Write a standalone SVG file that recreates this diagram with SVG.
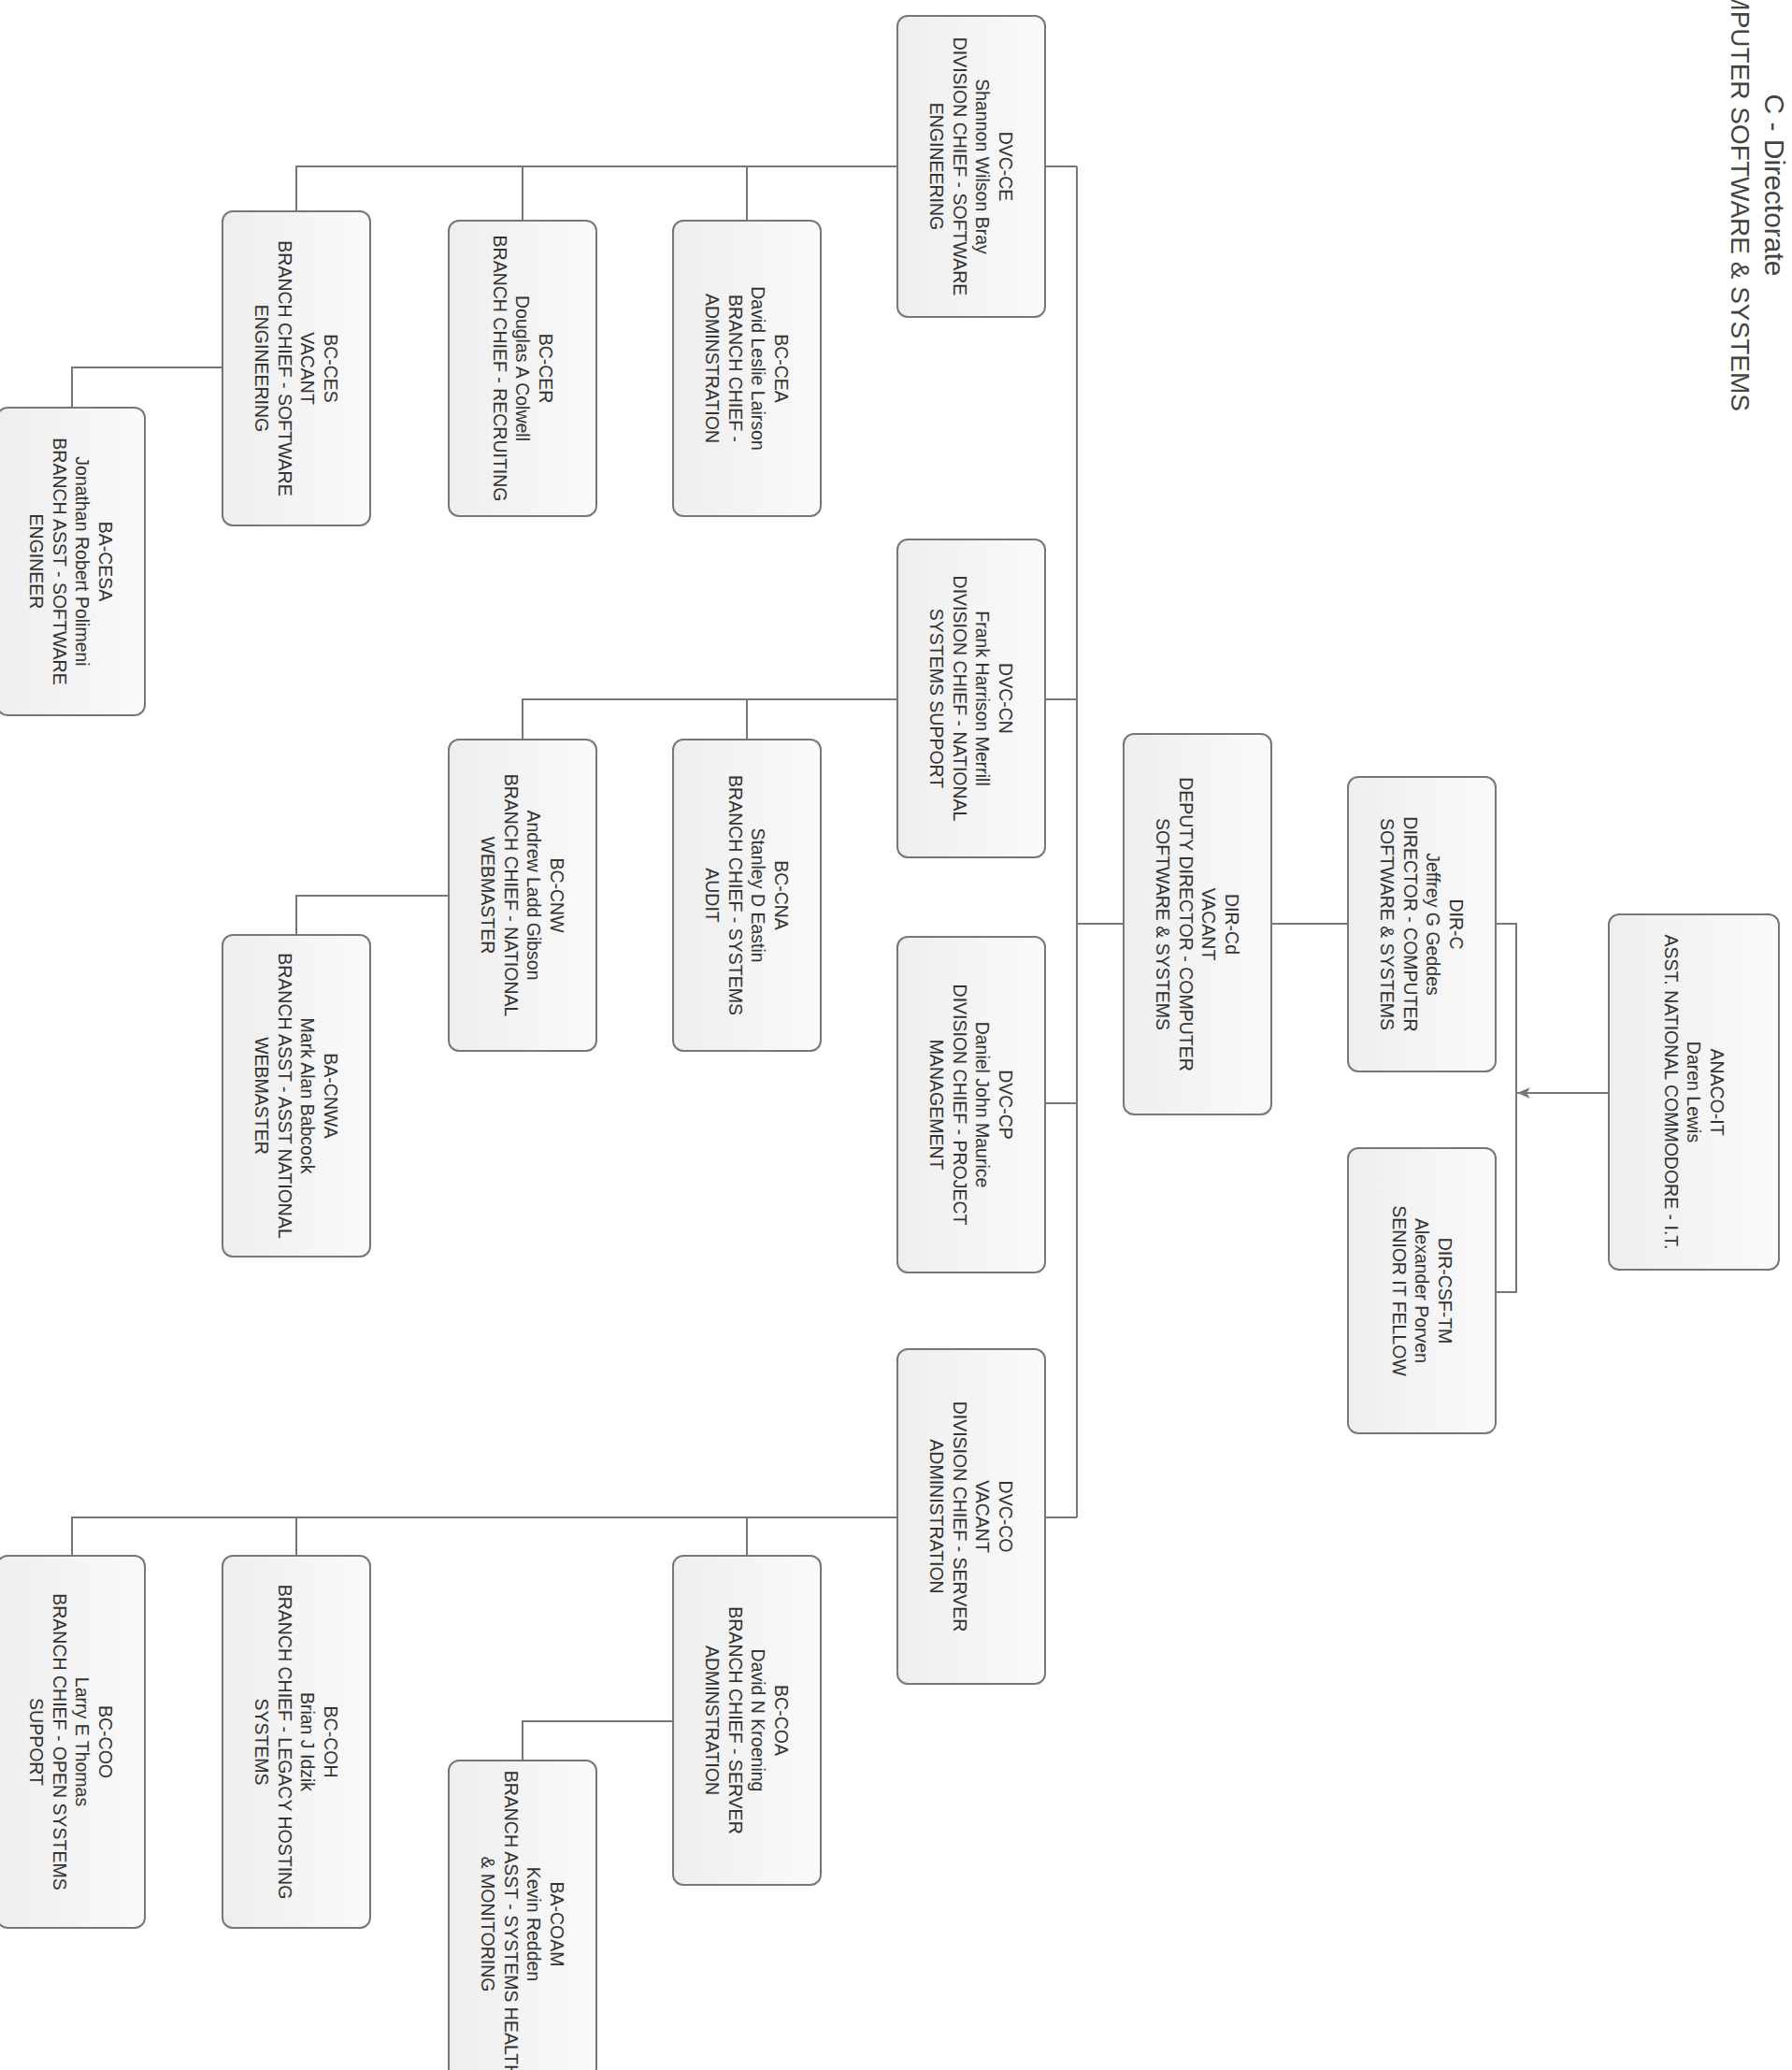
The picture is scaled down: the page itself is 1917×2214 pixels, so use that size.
<svg xmlns="http://www.w3.org/2000/svg" width="1917" height="2214" viewBox="0 0 1917 2214">
<defs>
<linearGradient id="g" x1="0" y1="0" x2="1" y2="0">
<stop offset="0" stop-color="#eeeeee"/>
<stop offset="1" stop-color="#fafafa"/>
</linearGradient>
<marker id="arr" viewBox="0 0 14 12" refX="14" refY="6" markerWidth="14" markerHeight="12" markerUnits="userSpaceOnUse" orient="auto">
<path d="M0,0 L14,6 L0,12 L4,6 z" fill="#777"/>
</marker>
<style>
.box{fill:url(#g);stroke:#777;stroke-width:2}
.t{font-family:"Liberation Sans",Arial,sans-serif;font-size:19.5px;fill:#333;text-anchor:middle}
.ttl{font-family:"Liberation Sans",Arial,sans-serif;font-size:30px;fill:#444}
.c{fill:none;stroke:#777;stroke-width:2}
</style>
</defs>
<rect width="1917" height="2214" fill="#ffffff"/>
<g id="title">
<text class="ttl" text-anchor="middle" transform="translate(1888,198) rotate(90)">C - Directorate</text>
<text class="ttl" text-anchor="end" style="font-size:28px" transform="translate(1852,440) rotate(90)">COMPUTER SOFTWARE &amp; SYSTEMS</text>
</g>
<g id="connectors">
<path class="c" d="M1152,178 V1623"/>
<path class="c" d="M1118,178 H1152"/>
<path class="c" d="M1118,748 H1152"/>
<path class="c" d="M1118,1180 H1152"/>
<path class="c" d="M1118,1623 H1152"/>
<path class="c" d="M1202,988 H1152"/>
<path class="c" d="M1360,988 H1442"/>
<path class="c" d="M1600,988 H1622 V1382 H1600"/>
<path class="c" d="M1721,1169 H1623" marker-end="url(#arr)"/>
<path class="c" d="M960,178 H317 V226"/>
<path class="c" d="M799,178 V236"/>
<path class="c" d="M559,178 V236"/>
<path class="c" d="M238,393 H77 V436"/>
<path class="c" d="M960,748 H559 V791"/>
<path class="c" d="M799,748 V791"/>
<path class="c" d="M480,958 H317 V1000"/>
<path class="c" d="M960,1623 H77 V1664"/>
<path class="c" d="M799,1623 V1664"/>
<path class="c" d="M317,1623 V1664"/>
<path class="c" d="M720,1841 H559 V1883"/>
</g>
<g id="DVC-CE"><rect class="box" x="960" y="17" width="158" height="322" rx="11"/>
<text class="t" transform="translate(1039,178) rotate(90)"><tspan x="0" y="-29.75">DVC-CE</tspan><tspan x="0" y="-5.25">Shannon Wilson Bray</tspan><tspan x="0" y="19.25">DIVISION CHIEF - SOFTWARE</tspan><tspan x="0" y="43.75">ENGINEERING</tspan></text></g>
<g id="BC-CEA"><rect class="box" x="720" y="236" width="158" height="316" rx="11"/>
<text class="t" transform="translate(799,394) rotate(90)"><tspan x="0" y="-29.75">BC-CEA</tspan><tspan x="0" y="-5.25">David Leslie Lairson</tspan><tspan x="0" y="19.25">BRANCH CHIEF -</tspan><tspan x="0" y="43.75">ADMINSTRATION</tspan></text></g>
<g id="BC-CER"><rect class="box" x="480" y="236" width="158" height="316" rx="11"/>
<text class="t" transform="translate(559,394) rotate(90)"><tspan x="0" y="-17.5">BC-CER</tspan><tspan x="0" y="7">Douglas A Colwell</tspan><tspan x="0" y="31.5">BRANCH CHIEF - RECRUITING</tspan></text></g>
<g id="BC-CES"><rect class="box" x="238" y="226" width="158" height="336" rx="11"/>
<text class="t" transform="translate(317,394) rotate(90)"><tspan x="0" y="-29.75">BC-CES</tspan><tspan x="0" y="-5.25">VACANT</tspan><tspan x="0" y="19.25">BRANCH CHIEF - SOFTWARE</tspan><tspan x="0" y="43.75">ENGINEERING</tspan></text></g>
<g id="BA-CESA"><rect class="box" x="-3" y="436" width="158" height="329" rx="11"/>
<text class="t" transform="translate(76,600.5) rotate(90)"><tspan x="0" y="-29.75">BA-CESA</tspan><tspan x="0" y="-5.25">Jonathan Robert Polimeni</tspan><tspan x="0" y="19.25">BRANCH ASST - SOFTWARE</tspan><tspan x="0" y="43.75">ENGINEER</tspan></text></g>
<g id="DVC-CN"><rect class="box" x="960" y="577" width="158" height="340" rx="11"/>
<text class="t" transform="translate(1039,747) rotate(90)"><tspan x="0" y="-29.75">DVC-CN</tspan><tspan x="0" y="-5.25">Frank Harrison Merrill</tspan><tspan x="0" y="19.25">DIVISION CHIEF - NATIONAL</tspan><tspan x="0" y="43.75">SYSTEMS SUPPORT</tspan></text></g>
<g id="BC-CNA"><rect class="box" x="720" y="791" width="158" height="333" rx="11"/>
<text class="t" transform="translate(799,957.5) rotate(90)"><tspan x="0" y="-29.75">BC-CNA</tspan><tspan x="0" y="-5.25">Stanley D Eastin</tspan><tspan x="0" y="19.25">BRANCH CHIEF - SYSTEMS</tspan><tspan x="0" y="43.75">AUDIT</tspan></text></g>
<g id="BC-CNW"><rect class="box" x="480" y="791" width="158" height="333" rx="11"/>
<text class="t" transform="translate(559,957.5) rotate(90)"><tspan x="0" y="-29.75">BC-CNW</tspan><tspan x="0" y="-5.25">Andrew Ladd Gibson</tspan><tspan x="0" y="19.25">BRANCH CHIEF - NATIONAL</tspan><tspan x="0" y="43.75">WEBMASTER</tspan></text></g>
<g id="BA-CNWA"><rect class="box" x="238" y="1000" width="158" height="344" rx="11"/>
<text class="t" transform="translate(317,1172) rotate(90)"><tspan x="0" y="-29.75">BA-CNWA</tspan><tspan x="0" y="-5.25">Mark Alan Babcock</tspan><tspan x="0" y="19.25">BRANCH ASST - ASST NATIONAL</tspan><tspan x="0" y="43.75">WEBMASTER</tspan></text></g>
<g id="DIR-Cd"><rect class="box" x="1202" y="785" width="158" height="407" rx="11"/>
<text class="t" transform="translate(1281,988.5) rotate(90)"><tspan x="0" y="-29.75">DIR-Cd</tspan><tspan x="0" y="-5.25">VACANT</tspan><tspan x="0" y="19.25">DEPUTY DIRECTOR - COMPUTER</tspan><tspan x="0" y="43.75">SOFTWARE &amp; SYSTEMS</tspan></text></g>
<g id="DIR-C"><rect class="box" x="1442" y="831" width="158" height="315" rx="11"/>
<text class="t" transform="translate(1521,988.5) rotate(90)"><tspan x="0" y="-29.75">DIR-C</tspan><tspan x="0" y="-5.25">Jeffrey G Geddes</tspan><tspan x="0" y="19.25">DIRECTOR - COMPUTER</tspan><tspan x="0" y="43.75">SOFTWARE &amp; SYSTEMS</tspan></text></g>
<g id="DIR-CSF-TM"><rect class="box" x="1442" y="1228" width="158" height="305" rx="11"/>
<text class="t" transform="translate(1521,1380.5) rotate(90)"><tspan x="0" y="-17.5">DIR-CSF-TM</tspan><tspan x="0" y="7">Alexander Porven</tspan><tspan x="0" y="31.5">SENIOR IT FELLOW</tspan></text></g>
<g id="ANACO-IT"><rect class="box" x="1721" y="978" width="182" height="380" rx="11"/>
<text class="t" transform="translate(1812,1168) rotate(90)"><tspan x="0" y="-17.5">ANACO-IT</tspan><tspan x="0" y="7">Daren Lewis</tspan><tspan x="0" y="31.5">ASST. NATIONAL COMMODORE - I.T.</tspan></text></g>
<g id="DVC-CP"><rect class="box" x="960" y="1002" width="158" height="359" rx="11"/>
<text class="t" transform="translate(1039,1181.5) rotate(90)"><tspan x="0" y="-29.75">DVC-CP</tspan><tspan x="0" y="-5.25">Daniel John Maurice</tspan><tspan x="0" y="19.25">DIVISION CHIEF - PROJECT</tspan><tspan x="0" y="43.75">MANAGEMENT</tspan></text></g>
<g id="DVC-CO"><rect class="box" x="960" y="1443" width="158" height="358" rx="11"/>
<text class="t" transform="translate(1039,1622) rotate(90)"><tspan x="0" y="-29.75">DVC-CO</tspan><tspan x="0" y="-5.25">VACANT</tspan><tspan x="0" y="19.25">DIVISION CHIEF - SERVER</tspan><tspan x="0" y="43.75">ADMINISTRATION</tspan></text></g>
<g id="BC-COA"><rect class="box" x="720" y="1664" width="158" height="352" rx="11"/>
<text class="t" transform="translate(799,1840) rotate(90)"><tspan x="0" y="-29.75">BC-COA</tspan><tspan x="0" y="-5.25">David N Kroening</tspan><tspan x="0" y="19.25">BRANCH CHIEF - SERVER</tspan><tspan x="0" y="43.75">ADMINSTRATION</tspan></text></g>
<g id="BA-COAM"><rect class="box" x="480" y="1883" width="158" height="350" rx="11"/>
<text class="t" transform="translate(559,2058) rotate(90)"><tspan x="0" y="-29.75">BA-COAM</tspan><tspan x="0" y="-5.25">Kevin Redden</tspan><tspan x="0" y="19.25">BRANCH ASST - SYSTEMS HEALTH</tspan><tspan x="0" y="43.75">&amp; MONITORING</tspan></text></g>
<g id="BC-COH"><rect class="box" x="238" y="1664" width="158" height="398" rx="11"/>
<text class="t" transform="translate(317,1863) rotate(90)"><tspan x="0" y="-29.75">BC-COH</tspan><tspan x="0" y="-5.25">Brian J Idzik</tspan><tspan x="0" y="19.25">BRANCH CHIEF - LEGACY HOSTING</tspan><tspan x="0" y="43.75">SYSTEMS</tspan></text></g>
<g id="BC-COO"><rect class="box" x="-3" y="1664" width="158" height="398" rx="11"/>
<text class="t" transform="translate(76,1863) rotate(90)"><tspan x="0" y="-29.75">BC-COO</tspan><tspan x="0" y="-5.25">Larry E Thomas</tspan><tspan x="0" y="19.25">BRANCH CHIEF - OPEN SYSTEMS</tspan><tspan x="0" y="43.75">SUPPORT</tspan></text></g>
</svg>
